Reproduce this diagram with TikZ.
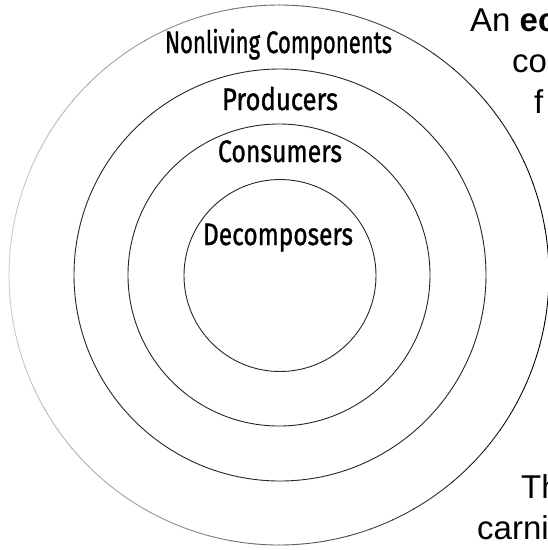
\documentclass[tikz,border=0pt]{standalone}
\usepackage{fontspec}
\usetikzlibrary{calc}
\setmainfont{Liberation Sans}
\newfontfamily\hwfont{Fira Sans}[FakeBold=1.2]
\newcommand{\hwlabel}[2]{\resizebox{#1}{\height}{\hwfont\fontsize{31}{36}\selectfont #2}}
\tikzset{
  ring/.style={draw=black!85, line width=0.9pt},
  hwtext/.style={anchor=base, inner sep=0pt, text=black},
  bodytext/.style={anchor=base west, inner sep=0pt, text=black, font=\fontsize{33}{40}\selectfont},
}
\begin{document}
\begin{tikzpicture}[x=1pt,y=-1pt]
\useasboundingbox (0,0) rectangle (548,550);
\fill[white] (0,0) rectangle (548,550);
\clip (0,0) rectangle (548,550);
% outer ring with fading stroke (dark on the right, faint on the left)
\coordinate (ctr) at (279,275);
\foreach \a in {0,5,...,355}{
  \pgfmathsetmacro{\p}{60+40*cos(\a+2.5)}
  \draw[draw=black!\p, line width=0.9pt] ($(ctr)+(\a:270)$) arc[start angle=\a, end angle=\a+5.2, radius=270];
}
\draw[ring] (ctr) ++(1,0) circle[radius=206];
\draw[ring] (ctr) circle[radius=151];
\draw[ring] (ctr) ++(1,0.5) circle[radius=96];
% labels
\node[hwtext] (nonliving) at (278.5,53) {\hwlabel{227pt}{Nonliving Components}};
\node[hwtext] (producers) at (280,110) {\hwlabel{116pt}{Producers}};
\node[hwtext] (consumers) at (280,162) {\hwlabel{124pt}{Consumers}};
\node[hwtext] (decomposers) at (278,245) {\hwlabel{150pt}{Decomposers}};
% cut-off text at right edge
\node[bodytext] (t1) at (470,31) {An \textbf{ec}};
\node[bodytext] (t2) at (512,72) {co};
\node[bodytext] (t3) at (534,113) {f};
\node[bodytext] (t4) at (521,498) {Th};
\node[bodytext] (t5) at (477,539) {carni};
\end{tikzpicture}
\end{document}
